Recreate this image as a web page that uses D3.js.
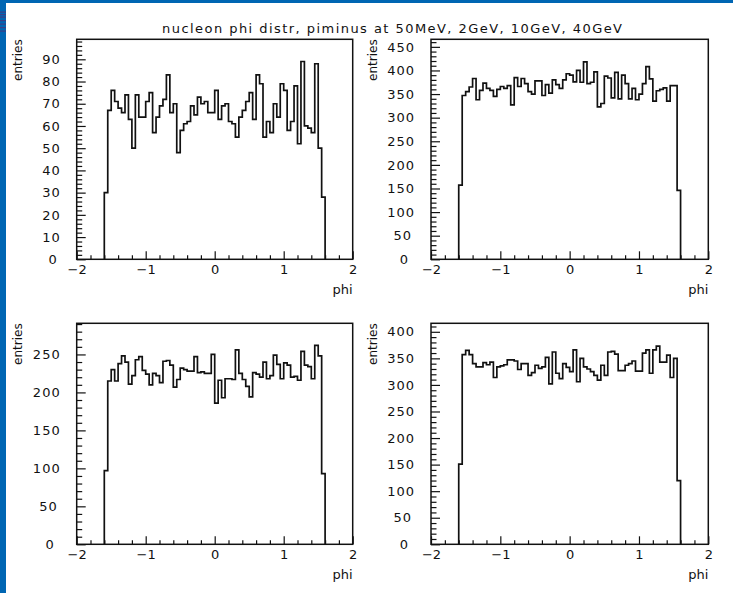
<!DOCTYPE html>
<html>
<head>
<meta charset="utf-8">
<script src="https://cdn.jsdelivr.net/npm/d3@7"></script>
<style>
  html, body { margin: 0; padding: 0; background: #fff; }
  svg { display: block; }
  text { font-family: 'DejaVu Sans', 'Liberation Sans', sans-serif; fill: #111; }
</style>
</head>
<body>
<div id="chart"></div>
<script>
// ── DATA ──────────────────────────────────────────────────────────
const titleText = 'nucleon phi distr, piminus at 50MeV, 2GeV, 10GeV, 40GeV';
const xTitle = 'phi';
const yTitle = 'entries';

// 64 bins of 0.05 between -1.6 and 1.6
const binLow = -1.6;
const binWidth = 0.05;

const counts50MeV = [
  30, 67, 76, 71, 68, 66, 74, 63, 50, 74, 64, 64, 71, 75, 57, 64,
  69, 72, 83, 66, 70, 48, 58, 61, 62, 69, 65, 73, 70, 71, 66, 66,
  76, 63, 69, 70, 62, 61, 55, 64, 67, 71, 75, 63, 83, 79, 55, 62,
  57, 70, 64, 79, 76, 58, 62, 78, 52, 89, 60, 59, 57, 88, 50, 28
];
const counts2GeV = [
  157, 347, 355, 365, 383, 338, 358, 373, 362, 358, 345, 360, 366, 362, 368, 327,
  385, 366, 383, 372, 355, 350, 378, 378, 347, 370, 352, 380, 370, 362, 380, 393,
  390, 376, 400, 375, 418, 372, 375, 397, 323, 330, 388, 384, 342, 396, 340, 390,
  372, 340, 362, 338, 350, 372, 408, 382, 335, 357, 360, 363, 335, 368, 368, 146
];
const counts10GeV = [
  97, 215, 230, 215, 238, 248, 240, 211, 222, 243, 247, 229, 224, 210, 225, 222,
  213, 241, 242, 236, 207, 217, 232, 230, 228, 228, 247, 226, 227, 225, 225, 250,
  186, 216, 193, 218, 218, 217, 256, 225, 217, 208, 194, 226, 224, 220, 240, 218,
  222, 249, 237, 218, 239, 236, 220, 221, 216, 254, 236, 234, 218, 262, 248, 93
];
const counts40GeV = [
  151, 357, 365, 357, 340, 334, 334, 342, 338, 343, 314, 334, 336, 338, 347, 347,
  345, 329, 340, 340, 318, 323, 337, 331, 334, 352, 302, 362, 322, 312, 340, 333,
  325, 366, 306, 350, 334, 330, 325, 318, 309, 337, 318, 362, 363, 358, 327, 327,
  337, 340, 345, 326, 326, 360, 366, 322, 366, 373, 343, 343, 356, 314, 350, 120
];

const xMajorTicks = [-2, -1, 0, 1, 2];
const xMinorStep = 0.2;

const yTicks50MeV = [0, 10, 20, 30, 40, 50, 60, 70, 80, 90];
const yTicks2GeV  = [0, 50, 100, 150, 200, 250, 300, 350, 400, 450];
const yTicks10GeV = [0, 50, 100, 150, 200, 250];
const yTicks40GeV = [0, 50, 100, 150, 200, 250, 300, 350, 400];

const yMinorSteps = [2, 10, 10, 10];
const yMaxes = [99, 466, 291, 416];

// ── LAYOUT ────────────────────────────────────────────────────────
const W = 733, H = 593;
const frames = [
  { x0: 76.7,  x1: 352.7, y0: 39.3,  y1: 259.3 },
  { x0: 431,   x1: 708.3, y0: 39.3,  y1: 259.3 },
  { x0: 76.7,  x1: 352.7, y0: 323.3, y1: 544.3 },
  { x0: 431,   x1: 708.3, y0: 323.3, y1: 544.3 }
];
const allCounts = [counts50MeV, counts2GeV, counts10GeV, counts40GeV];
const allYTicks = [yTicks50MeV, yTicks2GeV, yTicks10GeV, yTicks40GeV];

const svg = d3.select('#chart').append('svg')
  .attr('width', W).attr('height', H)
  .attr('viewBox', `0 0 ${W} ${H}`);

svg.append('rect').attr('width', W).attr('height', H).attr('fill', '#fff');

// blue window border (top + left) with a few dark stripes
const BLUE = '#0066b3';
svg.append('rect').attr('x', 0).attr('y', 0).attr('width', W).attr('height', 3).attr('fill', BLUE);
svg.append('rect').attr('x', 0).attr('y', 0).attr('width', 6).attr('height', H).attr('fill', BLUE);
[11.5, 14, 16.5, 20, 23.5, 27, 30.5].forEach(yy => {
  svg.append('rect').attr('x', 0).attr('y', yy).attr('width', 6).attr('height', 1.2)
    .attr('fill', '#3b3f86');
});

// title
svg.append('text')
  .attr('x', 392).attr('y', 33)
  .attr('text-anchor', 'middle')
  .attr('font-size', 13)
  .attr('textLength', 460)
  .attr('lengthAdjust', 'spacing')
  .text(titleText);

// ── PANELS ────────────────────────────────────────────────────────
frames.forEach((f, i) => drawPanel(f, allCounts[i], allYTicks[i], yMinorSteps[i], yMaxes[i]));

function drawPanel(f, counts, yTicks, yMinor, yMax) {
  const g = svg.append('g');
  const x = d3.scaleLinear().domain([-2, 2]).range([f.x0, f.x1]);
  const y = d3.scaleLinear().domain([0, yMax]).range([f.y1, f.y0]);

  // histogram outline
  const pts = [[binLow, 0]];
  counts.forEach((c, k) => {
    const lo = binLow + k * binWidth;
    pts.push([lo, c], [lo + binWidth, c]);
  });
  pts.push([binLow + counts.length * binWidth, 0]);

  const line = d3.line().x(d => x(d[0])).y(d => y(d[1]));
  g.append('path')
    .attr('d', line(pts))
    .attr('fill', 'none')
    .attr('stroke', '#111')
    .attr('stroke-width', 1.7)
    .attr('stroke-linejoin', 'miter');

  // x ticks (inside, pointing up)
  const xMinor = d3.range(-2, 2.0001, xMinorStep).filter(v => !xMajorTicks.some(m => Math.abs(m - v) < 1e-6));
  const styleAxis = sel => {
    sel.select('.domain').remove();
    sel.selectAll('line').attr('stroke', '#111').attr('stroke-width', 1.2);
  };
  g.append('g').attr('transform', `translate(0,${f.y1})`)
    .call(d3.axisTop(x).tickValues(xMinor).tickSize(4).tickFormat(''))
    .call(styleAxis);
  g.append('g').attr('transform', `translate(0,${f.y1})`)
    .call(d3.axisTop(x).tickValues(xMajorTicks).tickSize(8).tickFormat(''))
    .call(styleAxis);

  // x tick labels
  const xl = g.append('g').attr('transform', `translate(0,${f.y1})`)
    .call(d3.axisBottom(x).tickValues(xMajorTicks).tickSize(0).tickPadding(5)
      .tickFormat(d3.format('d')));
  xl.select('.domain').remove();
  xl.selectAll('text')
    .attr('font-family', "'DejaVu Sans', sans-serif")
    .attr('font-size', 13)
    .attr('fill', '#111');

  // y ticks (inside, pointing right)
  const yMinorVals = d3.range(0, yMax + 1e-6, yMinor).filter(v => !yTicks.includes(v));
  g.append('g').attr('transform', `translate(${f.x0},0)`)
    .call(d3.axisRight(y).tickValues(yMinorVals).tickSize(5.5).tickFormat(''))
    .call(styleAxis);
  g.append('g').attr('transform', `translate(${f.x0},0)`)
    .call(d3.axisRight(y).tickValues(yTicks).tickSize(9).tickFormat(''))
    .call(styleAxis);

  // y tick labels
  const maxDigits = d3.max(yTicks, v => String(v).length);
  g.selectAll('text.ylab')
    .data(yTicks)
    .enter().append('text')
      .attr('class', 'ylab')
      .attr('x', v => f.x0 - 16 - (maxDigits - String(v).length) * 3)
      .attr('y', v => y(v))
      .attr('dy', '0.36em')
      .attr('text-anchor', 'end')
      .attr('font-size', 13)
      .attr('letter-spacing', 1)
      .text(v => v);

  // frame
  g.append('rect')
    .attr('x', f.x0).attr('y', f.y0)
    .attr('width', f.x1 - f.x0).attr('height', f.y1 - f.y0)
    .attr('fill', 'none')
    .attr('stroke', '#111')
    .attr('stroke-width', 1.5);

  // axis titles
  g.append('text')
    .attr('x', f.x1).attr('y', f.y1 + 35)
    .attr('text-anchor', 'end')
    .attr('font-size', 13)
    .text(xTitle);

  g.append('text')
    .attr('transform', `translate(${f.x0 - 54.5},${f.y0}) rotate(-90)`)
    .attr('text-anchor', 'end')
    .attr('font-size', 12)
    .text(yTitle);
}
</script>
</body>
</html>
